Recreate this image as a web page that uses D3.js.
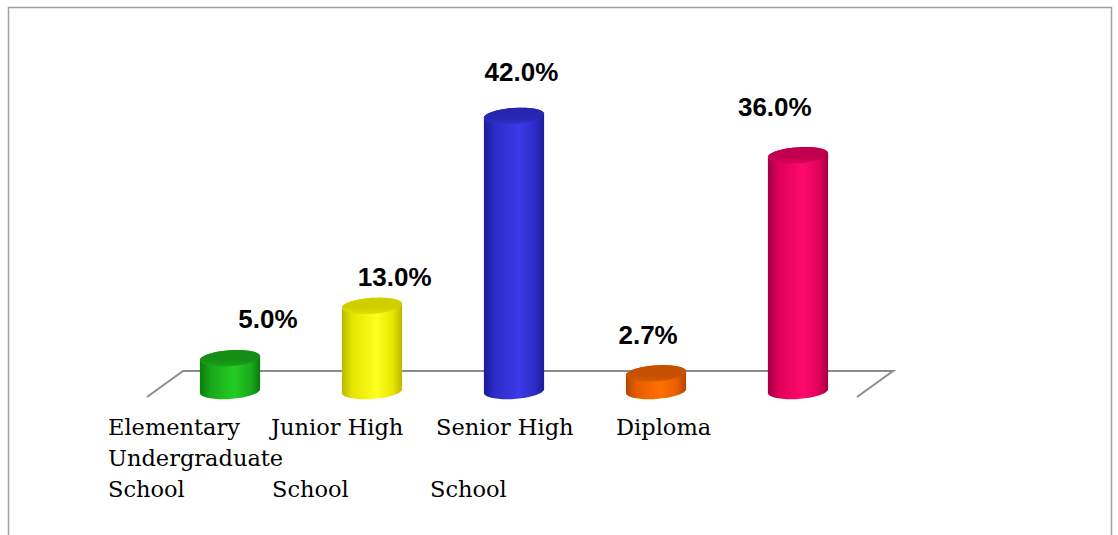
<!DOCTYPE html>
<html><head><meta charset="utf-8">
<script src="https://cdn.jsdelivr.net/npm/d3@7"></script>
<style>html,body{margin:0;padding:0;background:#fff;overflow:hidden}svg{display:block}</style>
</head><body>
<script>
// ---- data ----
const categories = ["Elementary School", "Junior High School", "Senior High School", "Diploma", "Undergraduate"];
const values = [5.0, 13.0, 42.0, 2.7, 36.0];
const valueLabels = ["5.0%", "13.0%", "42.0%", "2.7%", "36.0%"];
const yDomain = [0, 45];

// ---- style ----
const palette = [
  {edge:"#0c7a0c", mid:"#19a819", hi:"#24cc24", top:"#148e14", topHi:"#1aa51a"},
  {edge:"#b8b800", mid:"#e6e600", hi:"#ffff20", top:"#cfcf00", topHi:"#e2e200"},
  {edge:"#1c1c98", mid:"#2c2cc8", hi:"#3a3ae8", top:"#2626b0", topHi:"#2e2ecc"},
  {edge:"#b04800", mid:"#e85c00", hi:"#ff7000", top:"#c45000", topHi:"#d85a00"},
  {edge:"#a00046", mid:"#e0005a", hi:"#ff0a6a", top:"#c0004e", topHi:"#d8005a"}
];
// data-label nudges (Excel 3D label placement)
const labelNudgeY = [-30, -20, -35, -29, -39];
// category label text columns
const labelColX = [108, 271, 436, 616];
const labelColX3 = [108, 272, 430];

const W = 1118, H = 535;
const svg = d3.select("body").append("svg").attr("width", W).attr("height", H);
const defs = svg.append("defs");

// frame
svg.append("path")
  .attr("d", `M8.5,${H+2} V7.5 H1111.5 V${H+2}`)
  .attr("fill", "none").attr("stroke", "#a0a0a0").attr("stroke-width", 1.5);

const x = d3.scaleBand().domain(categories).range([159, 869]).paddingInner(0).paddingOuter(0);
const y = d3.scaleLinear().domain(yDomain).range([391, 391 - 45 * 6.55]);

const base = y(0);
// floor (3D back wall base + sides)
const [r0, r1] = x.range();
const backY = base - 20, frontY = base + 6;
const floor = svg.append("g").attr("stroke", "#8c8c8c").attr("stroke-width", 2).attr("fill", "none");
floor.append("path").attr("d", `M${r0-12},${frontY} L${r0+24},${backY} L${r1+24},${backY} L${r1-12},${frontY}`);

// cylinders
const rx = x.bandwidth() * 0.212, ry = 8, k = 0.065;
function ell(cx, cy, t0, t1, n) {
  const pts = [];
  for (let i = 0; i <= n; i++) {
    const t = t0 + (t1 - t0) * i / n;
    pts.push([cx + rx * Math.cos(t), cy + ry * Math.sin(t) - k * rx * Math.cos(t)]);
  }
  return pts;
}
const line = d3.line();

categories.forEach((c, i) => {
  const p = palette[i];
  const gid = "g" + i, tid = "t" + i;
  const lg = defs.append("linearGradient").attr("id", gid).attr("x1", 0).attr("x2", 1).attr("y1", 0).attr("y2", 0);
  [[0, p.edge], [0.18, p.mid], [0.58, p.hi], [0.85, p.mid], [1, p.edge]].forEach(s =>
    lg.append("stop").attr("offset", s[0]).attr("stop-color", s[1]));
  const tg = defs.append("linearGradient").attr("id", tid).attr("x1", 0).attr("x2", 0).attr("y1", 0).attr("y2", 1);
  [[0, p.top], [0.6, p.top], [1, p.topHi]].forEach(s =>
    tg.append("stop").attr("offset", s[0]).attr("stop-color", s[1]));

  const cx = x(c) + x.bandwidth() / 2;
  const yt = y(values[i]);
  const bottomArc = ell(cx, base, Math.PI, 0, 40);
  const topArc = ell(cx, yt, 0, -Math.PI, 40);
  const body = [[cx - rx, yt + k * rx], ...bottomArc, ...topArc];
  svg.append("path").attr("d", line(body) + "Z").attr("fill", `url(#${gid})`);
  svg.append("path").attr("d", line(ell(cx, yt, 0, 2 * Math.PI, 72)) + "Z").attr("fill", `url(#${tid})`);

  // value label
  svg.append("text")
    .attr("x", cx + 38 - 15.3 * i)
    .attr("y", yt + labelNudgeY[i])
    .attr("text-anchor", "middle")
    .attr("font-family", "'Liberation Sans', Arial, sans-serif")
    .attr("font-weight", "bold")
    .attr("font-size", 26)
    .attr("fill", "#000")
    .text(valueLabels[i]);
});

// category labels (wrapped as in the original)
const rowY = [435, 466, 497];
const catFont = {"font-family": "'DejaVu Serif', serif", "font-size": 22.5, "fill": "#000"};
function addText(tx, ty, s) {
  const t = svg.append("text").attr("x", tx).attr("y", ty).text(s);
  Object.entries(catFont).forEach(([a, v]) => t.attr(a, v));
}
const firstParts = categories.slice(0, 4).map(c => c.replace(/ School$/, ""));
firstParts.forEach((s, i) => addText(labelColX[i], rowY[0], s));
addText(labelColX[0], rowY[1], categories[4]);
categories.filter(c => / School$/.test(c)).forEach((c, i) => addText(labelColX3[i], rowY[2], "School"));
</script>
</body></html>
